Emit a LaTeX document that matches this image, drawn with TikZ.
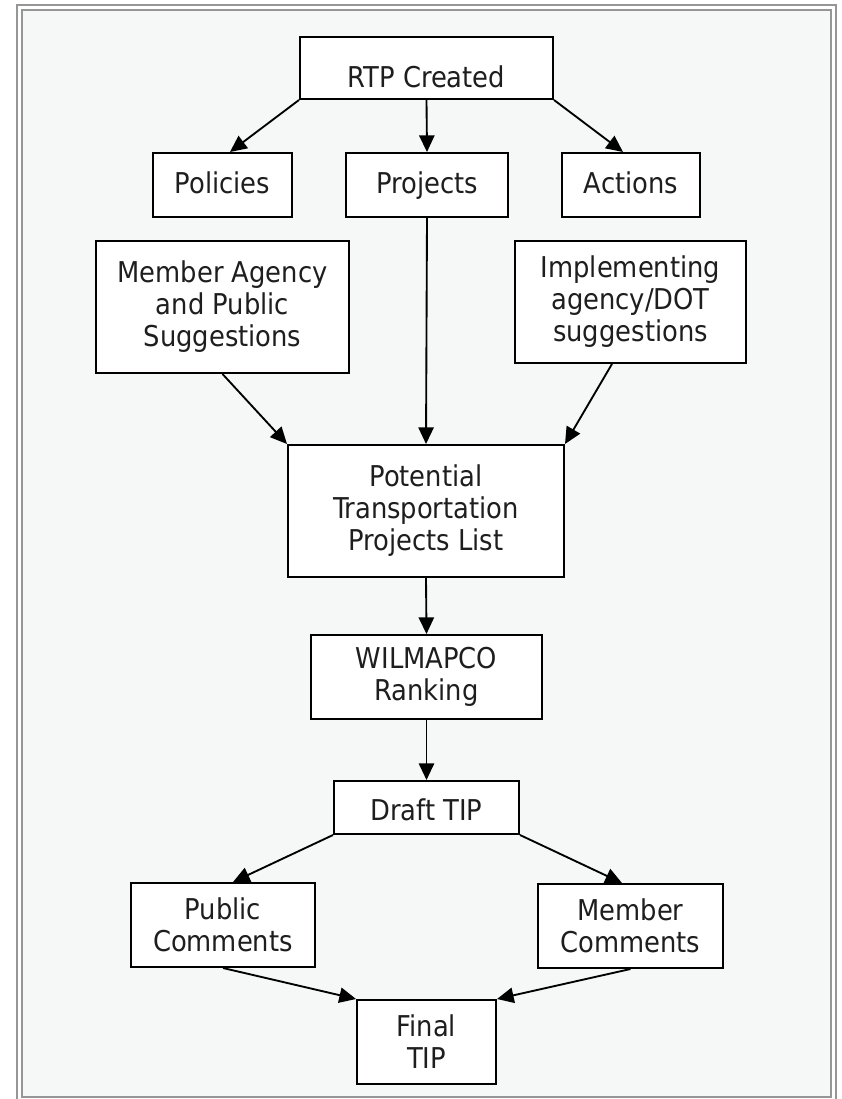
\documentclass[tikz,border=0pt]{standalone}
\usepackage{fontspec}
\setmainfont{DejaVu Sans Condensed}
\usetikzlibrary{arrows.meta}
\definecolor{bgfill}{RGB}{246,248,248}
\definecolor{framegray}{RGB}{150,150,150}
\definecolor{txt}{RGB}{30,30,30}
\tikzset{
  box/.style={draw=black, line width=1.5pt, fill=white, inner sep=0pt, align=center,
    text=txt, font=\fontsize{21.5}{24}\selectfont},
  oneline/.style={text height=#1, text depth=0pt},
  conn/.style={draw=black, line width=1.4pt, -{Triangle[length=12.5pt,width=11.5pt]}},
}
\begin{document}
\begin{tikzpicture}[x=0.75pt,y=-0.75pt]
\useasboundingbox (0,0) rectangle (842,1099);
% frame
\draw[framegray, line width=1.5pt] (17,5) rectangle (836,1104);
\draw[framegray, line width=1.5pt, fill=bgfill] (22,10) rectangle (831,1097);
% nodes
\node[box, oneline=30pt, minimum width=189.75pt, minimum height=46.5pt] (rtp) at (426.5,68) {RTP Created};
\node[box, oneline=12pt, minimum width=104.25pt, minimum height=48pt] (policies) at (222.5,185) {Policies};
\node[box, oneline=12pt, minimum width=121.5pt, minimum height=48pt] (projects) at (427,185) {Projects};
\node[box, oneline=12pt, minimum width=103.5pt, minimum height=48pt] (actions) at (631,185) {Actions};
\node[box, minimum width=189.75pt, minimum height=99pt] (member) at (222.5,307) {Member Agency\\and Public\\Suggestions};
\node[box, minimum width=173.25pt, minimum height=91.5pt] (impl) at (630.5,302) {Implementing\\agency/DOT\\suggestions};
\node[box, minimum width=207pt, minimum height=99pt] (potential) at (426,511) {Potential\\Transportation\\Projects List};
\node[box, minimum width=173.25pt, minimum height=63pt] (wilmapco) at (426.5,677) {WILMAPCO\\Ranking};
\node[box, oneline=18.75pt, minimum width=138.75pt, minimum height=39.75pt] (draft) at (426.5,807.5) {Draft TIP};
\node[box, minimum width=138pt, minimum height=63pt] (public) at (223,925) {Public\\Comments};
\node[box, minimum width=138.75pt, minimum height=63pt] (membc) at (630.5,926) {Member\\Comments};
\node[box, minimum width=104.25pt, minimum height=63pt] (final) at (426.5,1042) {Final\\TIP};
% connectors
\draw[conn] (rtp.south west) -- ([xshift=5.6pt]policies.north);
\draw[conn] (rtp.south) -- (projects.north);
\draw[conn] (rtp.south east) -- ([xshift=-6pt]actions.north);
\draw[conn] (projects.south) -- (potential.north);
\draw[conn] (member.south) -- (potential.north west);
\draw[conn] ([xshift=-13.9pt]impl.south) -- (potential.north east);
\draw[conn] (potential.south) -- (wilmapco.north);
\draw[conn] (wilmapco.south) -- (draft.north);
\draw[conn] (draft.south west) -- ([xshift=7.5pt]public.north);
\draw[conn] (draft.south east) -- ([xshift=-6.4pt]membc.north);
\draw[conn] (public.south) -- (final.north west);
\draw[conn] (membc.south) -- (final.north east);
\end{tikzpicture}
\end{document}
